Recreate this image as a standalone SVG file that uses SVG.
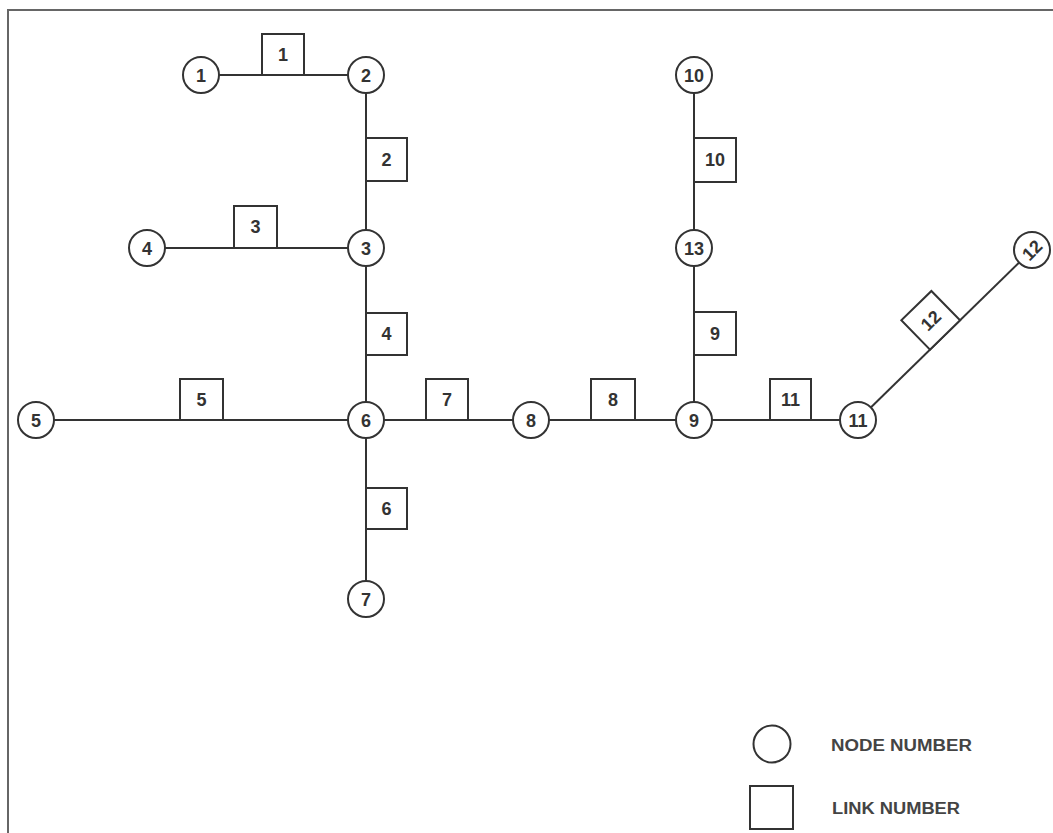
<svg xmlns="http://www.w3.org/2000/svg" width="1053" height="833" viewBox="0 0 1053 833">
<style>
.ln{stroke:#333;stroke-width:2;fill:none}
.nd{fill:#fff;stroke:#333;stroke-width:2}
.bx{fill:#fff;stroke:#333;stroke-width:2}
.t{font-family:"Liberation Sans",Arial,sans-serif;font-size:18px;font-weight:bold;fill:#333;text-anchor:middle}
.lg{font-family:"Liberation Sans",Arial,sans-serif;font-size:16px;font-weight:bold;fill:#444}
.fr{stroke:#666;stroke-width:2;fill:none}
</style>
<rect width="1053" height="833" fill="#fff"/>
<path class="fr" d="M8,833 V10 H1053"/>
<g id="connectors">
<line class="ln" x1="201" y1="75" x2="366" y2="75"/>
<line class="ln" x1="366" y1="75" x2="366" y2="599"/>
<line class="ln" x1="147" y1="248" x2="366" y2="248"/>
<line class="ln" x1="36" y1="420" x2="858" y2="420"/>
<line class="ln" x1="694" y1="75" x2="694" y2="420"/>
<line class="ln" x1="858" y1="420" x2="1032" y2="250"/>
</g>
<g id="links">
<g id="link-1"><rect class="bx" x="262" y="34" width="42" height="41"/><text class="t" x="283" y="61">1</text></g>
<g id="link-2"><rect class="bx" x="366" y="138" width="41" height="43"/><text class="t" x="386.5" y="166">2</text></g>
<g id="link-3"><rect class="bx" x="234" y="206" width="43" height="42"/><text class="t" x="255.5" y="233">3</text></g>
<g id="link-4"><rect class="bx" x="366" y="313" width="41" height="42"/><text class="t" x="386.5" y="340">4</text></g>
<g id="link-5"><rect class="bx" x="180" y="379" width="43" height="41"/><text class="t" x="201.5" y="406">5</text></g>
<g id="link-6"><rect class="bx" x="366" y="488" width="41" height="41"/><text class="t" x="386.5" y="515">6</text></g>
<g id="link-7"><rect class="bx" x="426" y="379" width="42" height="41"/><text class="t" x="447" y="406">7</text></g>
<g id="link-8"><rect class="bx" x="591" y="379" width="44" height="41"/><text class="t" x="613" y="406">8</text></g>
<g id="link-9"><rect class="bx" x="694" y="312" width="42" height="43"/><text class="t" x="715" y="340">9</text></g>
<g id="link-10"><rect class="bx" x="694" y="138" width="42" height="44"/><text class="t" x="715" y="166">10</text></g>
<g id="link-11"><rect class="bx" x="770" y="379" width="41" height="41"/><text class="t" x="790.5" y="406">11</text></g>
<g id="link-12" transform="translate(945,335) rotate(-44.3)"><rect class="bx" x="-21" y="-41" width="42" height="41"/><text class="t" x="0" y="-14">12</text></g>
</g>
<g id="node-1"><circle class="nd" cx="201" cy="75" r="18"/><text class="t" x="201" y="81.5">1</text></g>
<g id="node-2"><circle class="nd" cx="366" cy="75" r="18"/><text class="t" x="366" y="81.5">2</text></g>
<g id="node-3"><circle class="nd" cx="366" cy="248" r="18"/><text class="t" x="366" y="254.5">3</text></g>
<g id="node-4"><circle class="nd" cx="147" cy="248" r="18"/><text class="t" x="147" y="254.5">4</text></g>
<g id="node-5"><circle class="nd" cx="36" cy="420" r="18"/><text class="t" x="36" y="426.5">5</text></g>
<g id="node-6"><circle class="nd" cx="366" cy="420" r="18"/><text class="t" x="366" y="426.5">6</text></g>
<g id="node-7"><circle class="nd" cx="366" cy="599" r="18"/><text class="t" x="366" y="605.5">7</text></g>
<g id="node-8"><circle class="nd" cx="531" cy="420" r="18"/><text class="t" x="531" y="426.5">8</text></g>
<g id="node-9"><circle class="nd" cx="694" cy="420" r="18"/><text class="t" x="694" y="426.5">9</text></g>
<g id="node-10"><circle class="nd" cx="694" cy="75" r="18"/><text class="t" x="694" y="81.5">10</text></g>
<g id="node-11"><circle class="nd" cx="858" cy="420" r="18"/><text class="t" x="858" y="426.5">11</text></g>
<g id="node-12"><circle class="nd" cx="1032" cy="250" r="18"/><text class="t" x="0" y="6.5" transform="translate(1032,250) rotate(-45)">12</text></g>
<g id="node-13"><circle class="nd" cx="694" cy="248" r="18"/><text class="t" x="694" y="254.5">13</text></g>
<g id="legend">
<circle class="nd" cx="772" cy="744" r="18.5"/>
<text class="lg" x="831" y="751" textLength="141" lengthAdjust="spacingAndGlyphs">NODE NUMBER</text>
<rect class="bx" x="750" y="786" width="43" height="43"/>
<text class="lg" x="832" y="814" textLength="128" lengthAdjust="spacingAndGlyphs">LINK NUMBER</text>
</g>
</svg>
